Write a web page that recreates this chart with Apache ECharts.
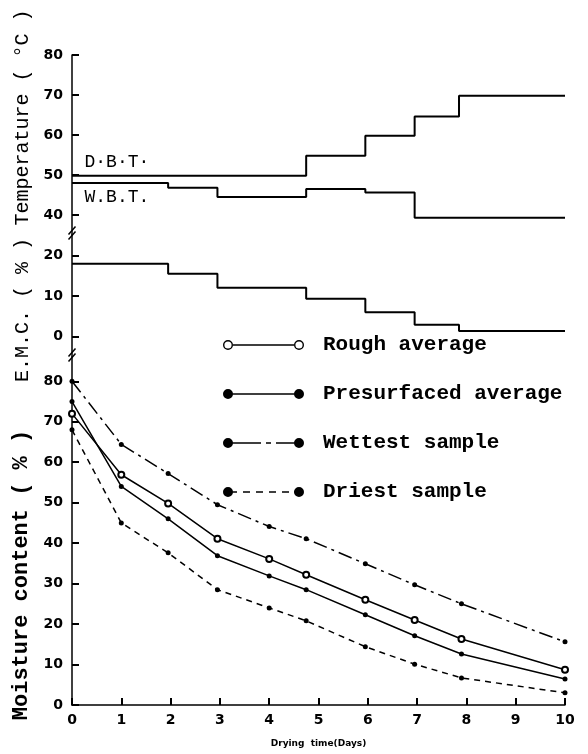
<!DOCTYPE html>
<html><head><meta charset="utf-8">
<script src="https://cdn.jsdelivr.net/npm/echarts@6/dist/echarts.min.js"></script>
<style>html,body{margin:0;padding:0;background:#fff}#c{width:588px;height:754px}</style>
</head><body><div id="c"></div>
<script>
// ---- data ----
const stepDays = [0, 1.95, 2.95, 4.75, 5.95, 6.95, 7.85, 10];
const dbtTemp = [49.8, 49.8, 49.8, 54.8, 59.8, 64.6, 69.8, 69.8];
const wbtTemp = [48.0, 46.8, 44.5, 46.5, 45.6, 39.3, 39.3, 39.3];
const emcValues = [17.9, 15.5, 12.0, 9.3, 6.0, 2.9, 1.4, 1.4];

const moistureDays = [0, 1, 1.95, 2.95, 4, 4.75, 5.95, 6.95, 7.9, 10];
const roughAverage = [72, 56.9, 49.8, 41.1, 36.1, 32.2, 26.0, 21.0, 16.3, 8.7];
const presurfacedAverage = [75, 54.0, 46.0, 36.9, 31.9, 28.5, 22.3, 17.1, 12.6, 6.4];
const wettestSample = [80, 64.4, 57.2, 49.5, 44.1, 41.1, 34.9, 29.7, 25.0, 15.6];
const driestSample = [68, 45.0, 37.6, 28.5, 24.0, 20.8, 14.4, 10.1, 6.7, 3.0];

const dayTicks = [0, 1, 2, 3, 4, 5, 6, 7, 8, 9, 10];
const tempTicks = [40, 50, 60, 70, 80];
const emcTicks = [0, 10, 20];
const moistureTicks = [0, 10, 20, 30, 40, 50, 60, 70, 80];
const seriesNames = ['Rough average', 'Presurfaced average', 'Wettest sample', 'Driest sample'];

// ---- layout ----
const L = 72, R = 23;
const G1T = 55, G1B = 235, G2B = 357, G3B = 705;

const zip = (xs, ys) => xs.map((x, i) => [x, ys[i]]);

// legend icons (81 x 10 box): marker - line - marker
const circ = (cx, r, d) => `M${cx - r},5 A${r},${r} 0 1,${d} ${cx + r},5 A${r},${r} 0 1,${d} ${cx - r},5 Z `;
const rect = (a, b) => `M${a},4.25 L${b},4.25 L${b},5.75 L${a},5.75 Z `;
const ends = circ(5, 5, 1) + circ(76, 5, 1);
const legendPaths = [
  circ(5, 5, 1) + circ(5, 3.6, 0) + circ(76, 5, 1) + circ(76, 3.6, 0) + rect(10, 71),
  ends + rect(5, 76),
  ends + rect(5, 38) + rect(43, 48) + rect(53, 76),
  ends + rect(5, 14) + rect(20, 27) + rect(33, 40) + rect(46, 53) + rect(59, 66) + rect(71, 76)
];

const black = '#000';
const tickStyle = { show: true, inside: true, length: 7, lineStyle: { color: black, width: 2 } };
const labelStyle = { show: true, color: black, fontFamily: 'DejaVu Sans', fontWeight: 'bold', fontSize: 14 };

function yAx(gi, min, max, ticks, name, nameStyle) {
  return {
    type: 'value', gridIndex: gi, min: min, max: max,
    axisLine: { show: true, onZero: false, lineStyle: { color: black, width: 1.5 } },
    splitLine: { show: false },
    axisTick: Object.assign({}, tickStyle, { customValues: ticks }),
    axisLabel: Object.assign({}, labelStyle, { margin: 9, customValues: ticks }),
    name: name, nameLocation: 'middle', nameRotate: 90, nameGap: 33,
    nameTextStyle: Object.assign({ color: black, fontFamily: 'Liberation Mono', fontSize: 20 }, nameStyle)
  };
}

function xAx(gi, show) {
  const ax = {
    type: 'value', gridIndex: gi, min: 0, max: 10,
    axisLine: { show: true, onZero: false, lineStyle: { color: black, width: 1.5 } },
    splitLine: { show: false },
    axisTick: Object.assign({}, tickStyle, { customValues: dayTicks }),
    axisLabel: Object.assign({}, labelStyle, { margin: 8, customValues: dayTicks }),
    name: 'Drying  time(Days)', nameLocation: 'middle', nameGap: 34,
    nameTextStyle: { color: black, fontFamily: 'DejaVu Sans', fontWeight: 'bold', fontSize: 9 }
  };
  return show ? ax : { type: 'value', gridIndex: gi, min: 0, max: 10, show: false };
}

const stepLine = { color: black, width: 2 };
const labelFont = { fontFamily: 'Liberation Mono', fontSize: 18, color: black };

function breakMark(y) {
  return {
    type: 'group', x: L, y: y, z: 100,
    children: [
      { type: 'polygon', shape: { points: [[-3, -1], [3, -8], [3, -3], [-3, 4]] }, style: { fill: '#fff' } },
      { type: 'line', shape: { x1: -3.5, y1: -0.5, x2: 3.5, y2: -8.5 }, style: { stroke: black, lineWidth: 1.5 } },
      { type: 'line', shape: { x1: -3.5, y1: 4.5, x2: 3.5, y2: -3.5 }, style: { stroke: black, lineWidth: 1.5 } }
    ]
  };
}

const option = {
  animation: false,
  backgroundColor: '#fff',
  grid: [
    { left: L, right: R, top: G1T, height: G1B - G1T, outerBoundsMode: 'none' },
    { left: L, right: R, top: G1B, height: G2B - G1B, outerBoundsMode: 'none' },
    { left: L, right: R, top: G2B, height: G3B - G2B, outerBoundsMode: 'none' }
  ],
  xAxis: [xAx(0, false), xAx(1, false), xAx(2, true)],
  yAxis: [
    yAx(0, 35, 80, tempTicks, 'Temperature ( °C )', { padding: [0, 0, 0, 55] }),
    yAx(1, -5, 25, emcTicks, 'E.M.C. ( % )', { padding: [0, 28, 0, 0] }),
    yAx(2, 0, 86, moistureTicks, 'Moisture content ( % )', { fontSize: 22, fontWeight: 'bold', padding: [0, 88, 0, 0] })
  ],
  legend: {
    orient: 'vertical', left: 223, top: 334, padding: 0, itemWidth: 81, itemHeight: 10, itemGap: 27,
    selectedMode: false,
    data: seriesNames.map((n, i) => ({ name: n, icon: 'path://' + legendPaths[i], itemStyle: { color: black, borderWidth: 0 } })),
    textStyle: { fontFamily: 'Liberation Mono', fontWeight: 'bold', fontSize: 21, color: black, lineHeight: 22, padding: [0, 0, 0, 14] }
  },
  graphic: [breakMark(G1B), breakMark(G2B)],
  series: [
    {
      name: 'D.B.T.', type: 'line', xAxisIndex: 0, yAxisIndex: 0, step: 'end', symbol: 'none',
      data: zip(stepDays, dbtTemp), lineStyle: stepLine, silent: true,
      markPoint: {
        symbol: 'circle', symbolSize: 1, itemStyle: { color: 'transparent' }, silent: true,
        data: [{ coord: [stepDays[0], dbtTemp[0]], label: Object.assign({ show: true, formatter: 'D·B·T·', position: [13, -13], align: 'left', verticalAlign: 'middle' }, labelFont) }]
      }
    },
    {
      name: 'W.B.T.', type: 'line', xAxisIndex: 0, yAxisIndex: 0, step: 'end', symbol: 'none',
      data: zip(stepDays, wbtTemp), lineStyle: stepLine, silent: true,
      markPoint: {
        symbol: 'circle', symbolSize: 1, itemStyle: { color: 'transparent' }, silent: true,
        data: [{ coord: [stepDays[0], wbtTemp[0]], label: Object.assign({ show: true, formatter: 'W.B.T.', position: [13, 15], align: 'left', verticalAlign: 'middle' }, labelFont) }]
      }
    },
    {
      name: 'E.M.C.', type: 'line', xAxisIndex: 1, yAxisIndex: 1, step: 'end', symbol: 'none',
      data: zip(stepDays, emcValues), lineStyle: stepLine, silent: true
    },
    {
      name: seriesNames[0], type: 'line', xAxisIndex: 2, yAxisIndex: 2,
      data: zip(moistureDays, roughAverage), symbol: 'emptyCircle', symbolSize: 6,
      itemStyle: { color: black, borderColor: black, borderWidth: 1.3 },
      lineStyle: { color: black, width: 1.5, type: 'solid' }
    },
    {
      name: seriesNames[1], type: 'line', xAxisIndex: 2, yAxisIndex: 2,
      data: zip(moistureDays, presurfacedAverage), symbol: 'circle', symbolSize: 5,
      itemStyle: { color: black },
      lineStyle: { color: black, width: 1.5, type: 'solid' }
    },
    {
      name: seriesNames[2], type: 'line', xAxisIndex: 2, yAxisIndex: 2,
      data: zip(moistureDays, wettestSample), symbol: 'circle', symbolSize: 5,
      itemStyle: { color: black },
      lineStyle: { color: black, width: 1.5, type: [14, 5, 3, 5] }
    },
    {
      name: seriesNames[3], type: 'line', xAxisIndex: 2, yAxisIndex: 2,
      data: zip(moistureDays, driestSample), symbol: 'circle', symbolSize: 5,
      itemStyle: { color: black },
      lineStyle: { color: black, width: 1.5, type: [6, 5] }
    }
  ]
};

const chart = echarts.init(document.getElementById('c'), null, { renderer: 'canvas' });
chart.setOption(option);
</script>
</body></html>
